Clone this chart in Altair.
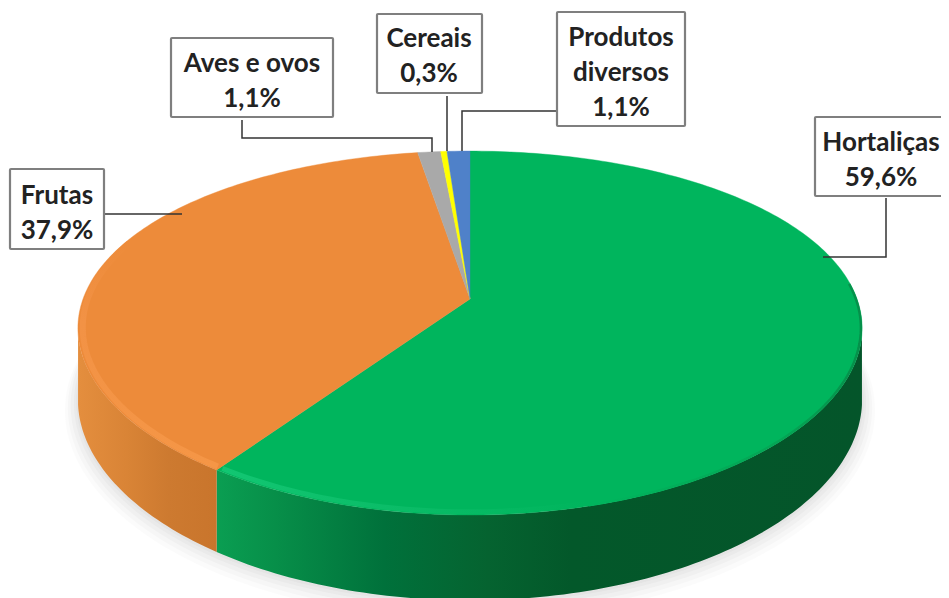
import math
import altair as alt
import pandas as pd

# ---- values
categories = ["Hortaliças", "Frutas", "Aves e ovos", "Cereais", "Produtos diversos"]
shares = [59.6, 37.9, 1.1, 0.3, 1.1]
share_labels = ["59,6%", "37,9%", "1,1%", "0,3%", "1,1%"]
colors = ["#00b55d", "#ed8b3a", "#a9a9a9", "#ffff00", "#4f81c9"]

# ---- perspective of the disc
CX, CY, RX, RY, K, DEPTH, XP = 470.0, 299.0, 387.0, 175.6, 0.187, 69.4, 0.857


def project(theta_deg, scale=1.0, z=0.0):
    t = math.radians(theta_deg)
    u, v = math.sin(t) * scale, -math.cos(t) * scale
    w = 1 - K * v
    return CX + RX * u / w ** XP, CY + RY * v / w + DEPTH * z / w


total = sum(shares)
edges = [0.0]
for s in shares:
    edges.append(edges[-1] + 360.0 * s / total)


def arc(a, b, scale=1.0, z=0.0, step=1.0):
    n = max(2, int(abs(b - a) / step) + 1)
    return [project(a + (b - a) * i / (n - 1), scale, z) for i in range(n)]


X = alt.X("x:Q", scale=alt.Scale(domain=[8, 941], nice=False, zero=False), axis=None)
Y = alt.Y("y:Q", scale=alt.Scale(domain=[598, 8], nice=False, zero=False), axis=None)


def poly(points, **kw):
    df = pd.DataFrame(points, columns=["x", "y"])
    df["i"] = range(len(df))
    return alt.Chart(df).mark_line(interpolate="linear", clip=True, **kw).encode(
        x=X, y=Y, order="i:Q"
    )


def grad(stops, horizontal=True):
    return alt.Gradient(
        gradient="linear",
        x1=0, y1=0, x2=1 if horizontal else 0, y2=0 if horizontal else 1,
        stops=[alt.GradientStop(offset=o, color=c) for o, c in stops],
    )


def side(a, b, fill):
    top = arc(a, b)
    bot = arc(a, b, z=1.0)
    df = pd.DataFrame(
        {"x": [p[0] for p in top], "y": [p[1] for p in top], "y2": [p[1] for p in bot]}
    )
    return alt.Chart(df).mark_area(clip=True, fill=fill, interpolate="linear").encode(
        x=X, y=Y, y2="y2:Q"
    )


layers = []

# soft shadow under the disc
for sc, dz, op in [(1.032, 1.12, 0.035), (1.025, 1.09, 0.04), (1.018, 1.06, 0.05), (1.01, 1.04, 0.05), (1.004, 1.02, 0.06)]:
    pts = arc(0, 360, scale=sc, z=dz, step=2)
    layers.append(poly(pts, fill="#808080", stroke="#808080", strokeWidth=0, fillOpacity=op, strokeOpacity=0))

# side wall
layers.append(side(100.8, edges[1], grad([
    (0, "#0a9e52"), (0.09, "#078f49"), (0.26, "#00713b"), (0.42, "#056330"),
    (0.55, "#03582a"), (1, "#04552a"),
])))
layers.append(side(edges[1], 259.2, grad([
    (0, "#e48e3e"), (0.35, "#d98436"), (0.65, "#cd7a30"), (1, "#c9752c"),
])))

# top surface
for i, c in enumerate(colors):
    pts = [(CX, CY)] + arc(edges[i], edges[i + 1])
    pts.append((CX, CY))
    layers.append(poly(pts, fill=c, stroke=c, strokeWidth=0.4))

# bevel along the rim
layers.append(poly(arc(edges[1] + 0.4, 290, scale=0.988), stroke=grad([
    (0, "#ed8b3a"), (0.35, "#f29245"), (1, "#f59646")], horizontal=False), strokeWidth=6))
layers.append(poly(arc(165, edges[1] - 0.4, scale=0.988), stroke=grad([
    (0, "#12c672"), (0.5, "#0abc67"), (1, "#00b55d")]), strokeWidth=5))
layers.append(poly(arc(85, 165, scale=0.997), stroke=grad([
    (0, "#00b55d"), (0.7, "#04a655"), (1, "#05904a")]), strokeWidth=2.5))

# leader lines
leaders = {
    "Frutas": [(105, 214), (182, 214)],
    "Aves e ovos": [(242, 120), (242, 138), (432, 138), (432, 152)],
    "Cereais": [(447, 96), (447, 151)],
    "Produtos diversos": [(557, 111), (462, 111), (462, 151)],
    "Hortaliças": [(886, 198), (886, 257), (823, 257)],
}
for pts in leaders.values():
    layers.append(poly(pts, stroke="#333333", strokeWidth=1.5))

# label boxes
boxes = pd.DataFrame(
    [
        (815, 117, 955, 196),
        (10, 169, 104, 249),
        (171, 38, 333, 117),
        (377, 14, 482, 93),
        (557, 12, 685, 126),
    ],
    columns=["x", "y", "x2", "y2"],
)
layers.append(
    alt.Chart(boxes)
    .mark_rect(fill="white", stroke="#7f7f7f", strokeWidth=2.2, clip=True, cornerRadius=1)
    .encode(x=X, y=Y, x2="x2:Q", y2="y2:Q")
)

# label text
centers = [(881, 143), (57, 196), (252, 64), (429, 39), (621, 38)]
lines = {"Produtos diversos": ["Produtos", "diversos"]}
rows = []
for name, lab, (cx, cy) in zip(categories, share_labels, centers):
    parts = lines.get(name, [name]) + [lab]
    for j, t in enumerate(parts):
        rows.append({"x": cx, "y": cy + 35 * j, "t": t})
layers.append(
    alt.Chart(pd.DataFrame(rows))
    .mark_text(font="Lato", fontWeight="bold", fontSize=26, color="#222222",
               align="center", baseline="middle")
    .encode(x=X, y=Y, text="t:N")
)

chart = (
    alt.layer(*layers)
    .properties(width=933, height=590, padding=0, autosize=alt.AutoSizeParams(type="none"))
    .configure_view(stroke=None)
)
chart.save("out.html", embed_options={"renderer": "svg", "actions": False})
